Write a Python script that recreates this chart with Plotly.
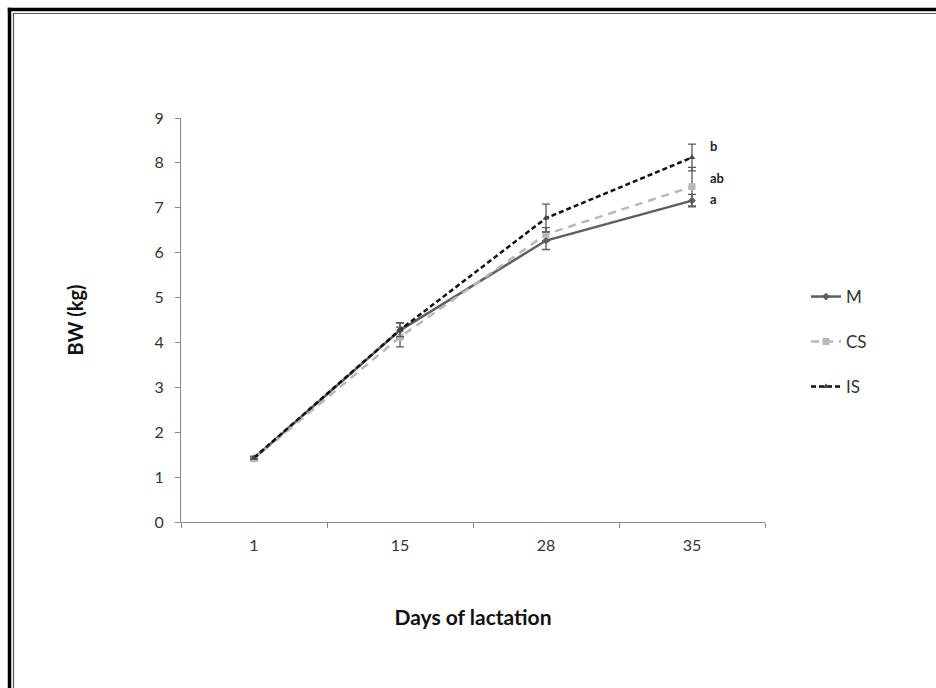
import plotly.graph_objects as go

days = ["1", "15", "28", "35"]
m_vals = [1.42, 4.27, 6.27, 7.16]
m_err = [0.03, 0.17, 0.20, 0.14]
cs_vals = [1.41, 4.12, 6.41, 7.47]
cs_err = [0.03, 0.22, 0.15, 0.43]
is_vals = [1.43, 4.28, 6.77, 8.12]
is_err = [0.03, 0.15, 0.31, 0.30]
sig_letters = ["b", "ab", "a"]
sig_y = [8.38, 7.67, 7.2]

L, R, T, B = 181, 765, 118, 522
W, H = 936, 688

def px(x):
    return (x - L) / (R - L)

def py(y):
    return (B - y) / (B - T)

font = "Lato, 'Open Sans', sans-serif"
err_color = "#5a5a5a"

fig = go.Figure()
fig.add_trace(go.Scatter(
    x=days, y=m_vals, name="M", mode="lines+markers",
    line=dict(color="#5f5f5f", width=2.5),
    marker=dict(symbol="diamond", size=6, color="#5f5f5f"),
    error_y=dict(type="data", array=m_err, color=err_color, thickness=1.3, width=4),
    legend="legend",
))
fig.add_trace(go.Scatter(
    x=days, y=cs_vals, name="CS", mode="lines+markers",
    line=dict(color="#b8b8b8", width=2.5, dash="8px,6px"),
    marker=dict(symbol="square", size=7, color="#b8b8b8"),
    error_y=dict(type="data", array=cs_err, color=err_color, thickness=1.3, width=4),
    legend="legend2",
))
fig.add_trace(go.Scatter(
    x=days, y=is_vals, name="IS", mode="lines+markers",
    line=dict(color="#111111", width=2.5, dash="5px,3px"),
    marker=dict(symbol="triangle-up", size=6, color="#444444"),
    error_y=dict(type="data", array=is_err, color=err_color, thickness=1.3, width=4),
    legend="legend3",
))

last_idx = len(days) - 1
for t, yv in zip(sig_letters, sig_y):
    fig.add_annotation(x=last_idx, y=yv, xref="x", yref="y", text="<b>%s</b>" % t, showarrow=False,
                       xanchor="left", xshift=16, font=dict(family=font, size=13, color="#222"))

# frame lines (top and left, double)
shapes = []
for (xp, w, c) in [(9.5, 3.5, "#000000"), (13.5, 1.2, "#555555")]:
    ext = 1.7 if w > 2 else 0.6
    shapes.append(dict(type="line", xref="paper", yref="paper",
                       x0=px(xp), x1=px(xp), y0=py(xp - ext), y1=py(H + 5),
                       line=dict(color=c, width=w)))
    shapes.append(dict(type="line", xref="paper", yref="paper",
                       x0=px(xp - ext), x1=px(W + 5), y0=py(xp), y1=py(xp),
                       line=dict(color=c, width=w)))
fig.update_layout(shapes=shapes)

legend_common = dict(font=dict(family=font, size=17, color="#333"), bgcolor="rgba(0,0,0,0)",
                     xanchor="left", yanchor="middle", itemwidth=30)
fig.update_layout(
    width=W, height=H,
    margin=dict(l=L, r=W - R, t=T, b=H - B),
    paper_bgcolor="white", plot_bgcolor="white",
    showlegend=True,
    legend=dict(x=px(806), y=py(297), **legend_common),
    legend2=dict(x=px(806), y=py(342), **legend_common),
    legend3=dict(x=px(806), y=py(387), **legend_common),
    xaxis=dict(
        type="category", range=[-0.5, 3.5], tickson="boundaries",
        showline=True, linecolor="#8a8a8a", linewidth=1,
        ticks="outside", ticklen=5, tickcolor="#8a8a8a",
        tickfont=dict(family=font, size=16, color="#333"),
        showgrid=False, zeroline=False, ticklabelstandoff=9,
        title=dict(text="<b>Days of lactation</b>", font=dict(family=font, size=21, color="#111"), standoff=57),
    ),
    yaxis=dict(
        range=[0, 9], dtick=1, showline=True, linecolor="#8a8a8a", linewidth=1,
        ticks="outside", ticklen=5, tickcolor="#8a8a8a",
        tickfont=dict(family=font, size=16, color="#333"),
        showgrid=False, zeroline=False, ticklabelstandoff=8,
        title=dict(text="<b>BW (kg)</b>", font=dict(family=font, size=20, color="#111"), standoff=65),
    ),
)

fig.write_html("out.html")
